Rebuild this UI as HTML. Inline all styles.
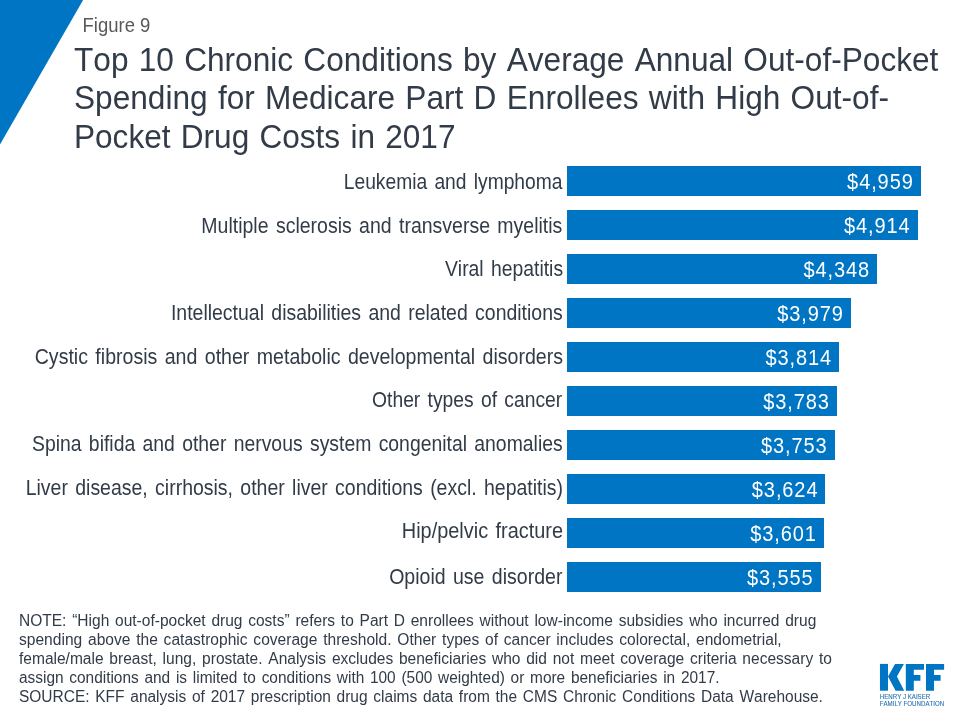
<!DOCTYPE html>
<html><head><meta charset="utf-8">
<style>
html,body{margin:0;padding:0;}
body{width:960px;height:720px;position:relative;overflow:hidden;background:#fff;font-family:"Liberation Sans",sans-serif;font-kerning:none;color:#323B48;}
div{position:absolute;white-space:nowrap;}
#wrap{left:0;top:0;width:960px;height:720px;will-change:transform;}
#fig{left:82.5px;top:13.5px;font-size:18.5px;line-height:24px;color:#595959;transform:scaleY(1.07);transform-origin:0 18.41px;}
.tl{left:73.5px;font-size:32px;word-spacing:1.5px;line-height:32px;transform-origin:0 50%;}
.lab{right:397.40px;font-size:20px;word-spacing:2px;line-height:20px;text-align:right;transform-origin:100% 50%;}
.bar{left:567.1px;height:29.8px;background:#0075C3;}
.val{font-size:20px;line-height:20px;color:#fff;text-align:right;letter-spacing:0.9px;}
.nt{left:18.7px;font-size:16px;word-spacing:1.5px;line-height:16px;transform-origin:0 50%;}
</style></head><body>

<div id="wrap"><svg width="960" height="720" viewBox="0 0 960 720" style="position:absolute;left:0;top:0">
<polygon points="0,0 83.1,0 0,144.4" fill="#0075C3"/>
<g fill="#0075C3">
<rect x="879.95" y="663.9" width="8.05" height="26.8"/>
<polygon points="895.05,663.9 903.9,663.9 896.9,676.4 904.2,690.7 895.6,690.7 888.0,676.4"/>
<polygon points="905.8,663.9 924,663.9 924,669.8 913.8,669.8 913.8,675 920.4,675 920.4,680.8 913.8,680.8 913.8,690.7 905.8,690.7"/>
<polygon points="926,663.9 944.1,663.9 944.1,669.8 934,669.8 934,675 940.6,675 940.6,680.8 934,680.8 934,690.7 926,690.7"/>
</g>
<text x="879.8" y="698.9" font-size="6.6" fill="#2C74B0" stroke="#2C74B0" stroke-width="0.12" font-family="Liberation Sans" textLength="50.4" lengthAdjust="spacingAndGlyphs">HENRY J KAISER</text>
<text x="879.8" y="705.8" font-size="6.6" fill="#2C74B0" stroke="#2C74B0" stroke-width="0.12" font-family="Liberation Sans" textLength="64.3" lengthAdjust="spacingAndGlyphs">FAMILY FOUNDATION</text>
</svg><div id="fig">Figure 9</div>
<div class="tl" style="top:43.71px;transform:scale(0.9879,1.045);transform-origin:0 27.09px">Top 10 Chronic Conditions by Average Annual Out-of-Pocket</div>
<div class="tl" style="top:82.41px;transform:scale(0.9881,1.045);transform-origin:0 27.09px">Spending for Medicare Part D Enrollees with High Out-of-</div>
<div class="tl" style="top:120.51px;transform:scale(0.9866,1.045);transform-origin:0 27.09px">Pocket Drug Costs in 2017</div>
<div class="lab" style="top:171.97px;transform:scale(0.9615,1.07);transform-origin:100% 16.93px">Leukemia and lymphoma</div>
<div class="bar" style="top:166.00px;width:353.90px"></div>
<div class="val" style="top:171.77px;left:567.10px;width:346.60px;transform:scaleY(1.09);transform-origin:0 16.93px">$4,959</div>
<div class="lab" style="top:215.87px;transform:scale(0.9747,1.07);transform-origin:100% 16.93px">Multiple sclerosis and transverse myelitis</div>
<div class="bar" style="top:210.00px;width:350.70px"></div>
<div class="val" style="top:215.77px;left:567.10px;width:343.39px;transform:scaleY(1.09);transform-origin:0 16.93px">$4,914</div>
<div class="lab" style="top:258.77px;transform:scale(0.9678,1.07);transform-origin:100% 16.93px">Viral hepatitis</div>
<div class="bar" style="top:254.00px;width:309.70px"></div>
<div class="val" style="top:259.77px;left:567.10px;width:303.00px;transform:scaleY(1.09);transform-origin:0 16.93px">$4,348</div>
<div class="lab" style="top:302.67px;transform:scale(0.9728,1.07);transform-origin:100% 16.93px">Intellectual disabilities and related conditions</div>
<div class="bar" style="top:298.00px;width:283.70px"></div>
<div class="val" style="top:303.77px;left:567.10px;width:276.66px;transform:scaleY(1.09);transform-origin:0 16.93px">$3,979</div>
<div class="lab" style="top:346.67px;transform:scale(0.9783,1.07);transform-origin:100% 16.93px">Cystic fibrosis and other metabolic developmental disorders</div>
<div class="bar" style="top:342.00px;width:271.70px"></div>
<div class="val" style="top:347.77px;left:567.10px;width:264.89px;transform:scaleY(1.09);transform-origin:0 16.93px">$3,814</div>
<div class="lab" style="top:389.67px;transform:scale(0.9643,1.07);transform-origin:100% 16.93px">Other types of cancer</div>
<div class="bar" style="top:386.00px;width:269.90px"></div>
<div class="val" style="top:391.77px;left:567.10px;width:262.67px;transform:scaleY(1.09);transform-origin:0 16.93px">$3,783</div>
<div class="lab" style="top:433.67px;transform:scale(0.969,1.07);transform-origin:100% 16.93px">Spina bifida and other nervous system congenital anomalies</div>
<div class="bar" style="top:430.00px;width:267.90px"></div>
<div class="val" style="top:435.77px;left:567.10px;width:260.53px;transform:scaleY(1.09);transform-origin:0 16.93px">$3,753</div>
<div class="lab" style="top:477.77px;transform:scale(0.9734,1.07);transform-origin:100% 16.93px">Liver disease, cirrhosis, other liver conditions (excl. hepatitis)</div>
<div class="bar" style="top:474.00px;width:257.90px"></div>
<div class="val" style="top:479.77px;left:567.10px;width:251.33px;transform:scaleY(1.09);transform-origin:0 16.93px">$3,624</div>
<div class="lab" style="top:520.57px;transform:scale(0.995,1.07);transform-origin:100% 16.93px">Hip/pelvic fracture</div>
<div class="bar" style="top:518.00px;width:256.80px"></div>
<div class="val" style="top:523.77px;left:567.10px;width:249.69px;transform:scaleY(1.09);transform-origin:0 16.93px">$3,601</div>
<div class="lab" style="top:566.77px;transform:scale(0.9767,1.07);transform-origin:100% 16.93px">Opioid use disorder</div>
<div class="bar" style="top:562.00px;width:253.70px"></div>
<div class="val" style="top:567.77px;left:567.10px;width:246.40px;transform:scaleY(1.09);transform-origin:0 16.93px">$3,555</div>
<div class="nt" style="top:612.76px;transform:scaleX(0.97)">NOTE: “High out-of-pocket drug costs” refers to Part D enrollees without low-income subsidies who incurred drug</div>
<div class="nt" style="top:631.76px;transform:scaleX(0.9731)">spending above the catastrophic coverage threshold. Other types of cancer includes colorectal, endometrial,</div>
<div class="nt" style="top:650.76px;transform:scaleX(0.9707)">female/male breast, lung, prostate. Analysis excludes beneficiaries who did not meet coverage criteria necessary to</div>
<div class="nt" style="top:669.76px;transform:scaleX(0.9637)">assign conditions and is limited to conditions with 100 (500 weighted) or more beneficiaries in 2017.</div>
<div class="nt" style="top:688.76px;transform:scaleX(0.9676)">SOURCE: KFF analysis of 2017 prescription drug claims data from the CMS Chronic Conditions Data Warehouse.</div></div>
</body></html>
